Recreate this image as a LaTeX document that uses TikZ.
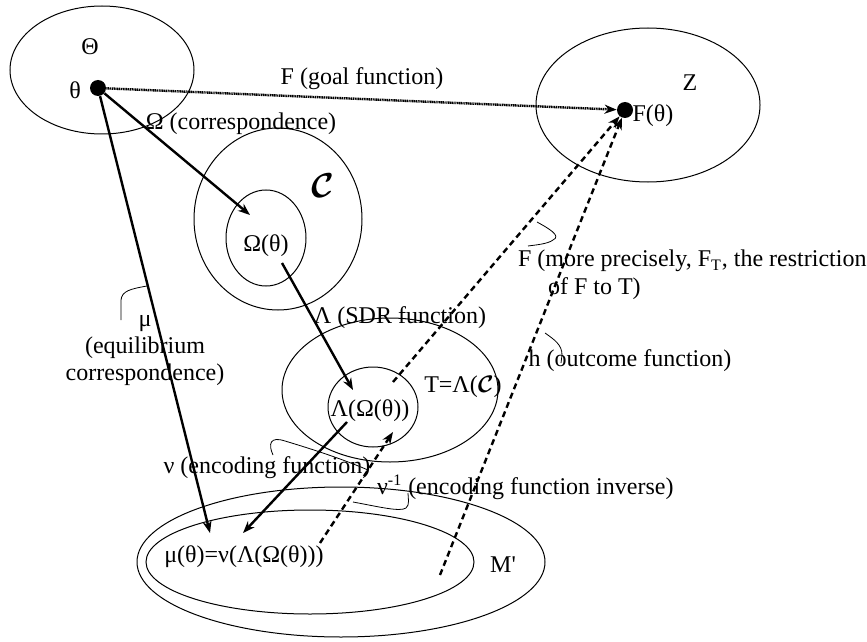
\documentclass[tikz,border=0pt]{standalone}
\usepackage{fontspec}
\usepackage{bm}
\setmainfont{Liberation Serif}
\usetikzlibrary{positioning,shapes.geometric,arrows.meta}
\newcommand{\calset}{\ensuremath{\bm{\mathcal{C}}}}

\begin{document}
\begin{tikzpicture}[
  x=0.5pt, y=-0.5pt,
  every node/.style={font=\fontsize{12}{13.5}\selectfont},
  set/.style={draw, ellipse, line width=0.5pt, inner sep=0pt},
  dotpt/.style={circle, fill=black, inner sep=0pt, minimum size=8pt},
  map/.style={line width=1.2pt, -{Stealth[length=6pt,width=4.5pt]}},
  dmap/.style={map, dash pattern=on 3pt off 2pt},
  goal/.style={map, dash pattern=on 0.6pt off 0.3pt},
  lead/.style={line width=0.4pt}
  ]

  \useasboundingbox (0,0) rectangle (867,642);

  % sets
  \node (thetaset) [set, minimum width=92pt, minimum height=64pt] at (102,70) {};
  \node (zset) [set, minimum width=112pt, minimum height=77pt] at (648,105) {};
  \node (cset) [set, minimum width=84pt, minimum height=91pt] at (278,219) {};
  \node (omegaset) [set, minimum width=40pt, minimum height=48pt] at (266,238) {};
  \node (tset) [set, minimum width=108pt, minimum height=72pt] at (390,390) {};
  \node (lamset) [set, minimum width=45pt, minimum height=40pt] at (373,407) {};
  \node (mouter) [set, minimum width=204pt, minimum height=75pt] at (341,562) {};
  \node (minner) [set, minimum width=164pt, minimum height=52pt] at (310,562) {};

  % points and set names
  \node (thetadot) [dotpt] at (98,88) {};
  \node (fdot) [dotpt] at (625,110) {};
  \node (thetattl) at (90,47) {Θ};
  \node (thetalbl) at (75,90) {θ};
  \node (zttl) at (690,83) {Z};
  \node (flbl) at (653,116) {F(θ)};
  \node (cttl) [font=\fontsize{16}{16}\selectfont] at (323,186) {\calset};
  \node (omegalbl) at (266,246) {Ω(θ)};
  \node (lamlbl) at (370,411) {Λ(Ω(θ))};
  \node (tttl) at (463,387) {T=Λ(\calset)};
  \node (mulbl) at (244,557) {μ(θ)=ν(Λ(Ω(θ)))};
  \node (mttl) at (503,565) {M\textquotesingle};

  % free ends
  \coordinate (omegatip) at (250,215);
  \coordinate (mutip) at (210,533);
  \coordinate (lamstart) at (282,263);
  \coordinate (lamtip) at (353,390);
  \coordinate (nustart) at (347,422);
  \coordinate (nutip) at (243,533);
  \coordinate (invstart) at (320,543);
  \coordinate (invtip) at (393,432);
  \coordinate (fstart) at (393,382);
  \coordinate (hstart) at (440,575);

  % maps
  \draw [goal] (thetadot) -- (fdot);
  \draw [map] (thetadot) -- (omegatip);
  \draw [map] (thetadot) -- (mutip);
  \draw [map] (lamstart) -- (lamtip);
  \draw [map] (nustart) -- (nutip);
  \draw [dmap] (invstart) -- (invtip);
  \draw [dmap] (fstart) -- (fdot);
  \draw [dmap] (hstart) -- (fdot);

  % map names
  \node (goallbl) at (362,79) {F (goal function)};
  \node (corrlbl) at (241,124) {Ω (correspondence)};
  \node (sdrlbl) at (400,318) {Λ (SDR function)};
  \node (eqlbl) [align=center] at (145,351) {μ\\(equilibrium\\correspondence)};
  \node (restlbl) [anchor=west, align=left, font=\fontsize{12}{14}\selectfont] at (511,275)
    {F (more precisely, F\textsubscript{T}, the restriction\\\hspace*{15pt}of F to T)};
  \node (outlbl) at (630,361) {h (outcome function)};
  \node (enclbl) at (267,468) {ν (encoding function)};
  \node (invlbl) [anchor=west] at (370,487) {ν\textsuperscript{-1} (encoding function inverse)};

  % callouts
  \draw [lead] (537,222) .. controls (548,228) and (562,236) .. (553,240)
    .. controls (548,244) and (535,245) .. (528,246);
  \draw [lead] (545,333) .. controls (555,340) and (562,345) .. (562,355) -- (561,363);
  \draw [lead] (147,286) .. controls (130,289) and (122,291) .. (121,300) -- (121,320);
  \draw [lead] (273,455) .. controls (268,444) and (270,436) .. (285,441)
    .. controls (315,450) and (345,460) .. (368,470);
  \draw [lead] (353,502) .. controls (380,507) and (400,512) .. (406,508)
    .. controls (410,505) and (408,498) .. (408,493);
\end{tikzpicture}
\end{document}
